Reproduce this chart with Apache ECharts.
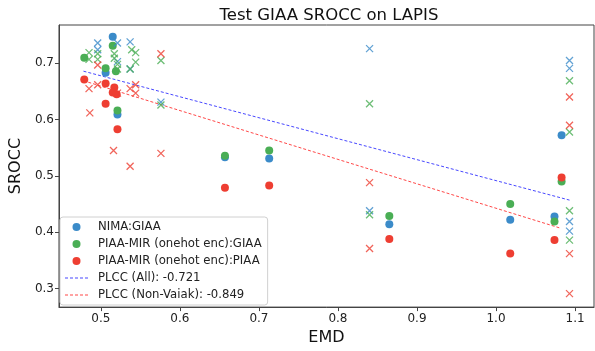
<!DOCTYPE html>
<html>
<head>
<meta charset="utf-8">
<script src="https://cdn.jsdelivr.net/npm/echarts@6/dist/echarts.min.js"></script>
<style>
html,body{margin:0;padding:0;background:#fff;}
#c{width:595px;height:351px;}
</style>
</head>
<body>
<div id="c"></div>
<script>
// ---- data ([EMD, SROCC]) ----
const nimaGiaaDot = [[0.515,0.747],[0.506,0.683],[0.521,0.609],[0.657,0.533],[0.713,0.531],[0.865,0.414],[1.018,0.422],[1.074,0.428],[1.083,0.572]];
const piaaGiaaDot = [[0.479,0.710],[0.515,0.731],[0.506,0.691],[0.519,0.686],[0.521,0.616],[0.657,0.536],[0.713,0.545],[0.865,0.429],[1.018,0.450],[1.074,0.419],[1.083,0.490]];
const piaaPiaaDot = [[0.479,0.671],[0.506,0.664],[0.517,0.657],[0.515,0.648],[0.520,0.645],[0.506,0.628],[0.521,0.583],[0.657,0.479],[0.713,0.483],[0.865,0.388],[1.018,0.362],[1.074,0.386],[1.083,0.497]];
const nimaGiaaX = [[0.496,0.736],[0.496,0.724],[0.521,0.736],[0.537,0.738],[0.521,0.703],[0.537,0.690],[0.576,0.631],[0.840,0.726],[0.840,0.438],[1.093,0.705],[1.093,0.691],[1.093,0.419],[1.093,0.402]];
const piaaGiaaX = [[0.485,0.719],[0.485,0.707],[0.496,0.707],[0.496,0.717],[0.517,0.717],[0.517,0.709],[0.521,0.698],[0.521,0.690],[0.539,0.724],[0.544,0.719],[0.544,0.702],[0.537,0.690],[0.576,0.705],[0.576,0.626],[0.840,0.628],[0.840,0.431],[1.093,0.669],[1.093,0.578],[1.093,0.438],[1.093,0.386]];
const piaaPiaaX = [[0.496,0.697],[0.576,0.717],[0.485,0.655],[0.496,0.662],[0.521,0.647],[0.544,0.662],[0.544,0.647],[0.537,0.655],[0.486,0.612],[0.516,0.545],[0.537,0.517],[0.576,0.540],[0.840,0.488],[0.840,0.371],[1.093,0.640],[1.093,0.590],[1.093,0.362],[1.093,0.291]];
const fitAll = [[0.478,0.686],[1.093,0.457]];
const fitNonVaiak = [[0.478,0.669],[1.082,0.407]];
const xTicks = [0.5,0.6,0.7,0.8,0.9,1.0,1.1];
const yTicks = [0.3,0.4,0.5,0.6,0.7];
const names = ['NIMA:GIAA','PIAA-MIR (onehot enc):GIAA','PIAA-MIR (onehot enc):PIAA','PLCC (All): -0.721','PLCC (Non-Vaiak): -0.849'];

const BLUE='#3b8bc9', GREEN='#4aae55', RED='#ee3e32';
const FIT_BLUE='rgba(40,40,255,0.85)', FIT_RED='rgba(255,40,40,0.85)';
const XPATH='path://M0,0L10,10M10,0L0,10';
const DASH_ICON='path://M0,0h3v1h-3zM5,0h3v1h-3zM10,0h3v1h-3zM15,0h3v1h-3zM20,0h3v1h-3z';
const FONT='DejaVu Sans';

function dots(name,data,color){
  return {type:'scatter',name:name,data:data,symbol:'circle',symbolSize:8,
    itemStyle:{color:color,opacity:1},z:3};
}
function crosses(name,data,color){
  return {type:'scatter',name:name,data:data,symbol:XPATH,symbolSize:7,
    itemStyle:{color:'rgba(0,0,0,0)',borderColor:color,borderWidth:1.3},z:3};
}
function fit(name,data,color){
  return {type:'line',name:name,data:data,symbol:'none',
    lineStyle:{color:color,width:1,type:[3,2]},itemStyle:{color:color},z:2};
}

const chart = echarts.init(document.getElementById('c'),null,{renderer:'canvas'});
chart.setOption({
  animation:false,
  backgroundColor:'#fff',
  textStyle:{fontFamily:FONT},
  title:{text:'Test GIAA SROCC on LAPIS',left:324,top:2,textAlign:'center',
    textStyle:{fontFamily:FONT,fontSize:16.5,fontWeight:'normal',color:'#111'}},
  grid:{left:54,right:1,top:25,bottom:39,show:true,borderColor:'#444',borderWidth:1,backgroundColor:'rgba(0,0,0,0)'},
  xAxis:{type:'value',min:0.447,max:1.124,
    name:'EMD',nameLocation:'middle',nameGap:22,
    nameTextStyle:{fontFamily:FONT,fontSize:16,color:'#111',verticalAlign:'top'},
    axisLine:{show:true,lineStyle:{color:'#444'}},
    axisTick:{show:true,length:4,customValues:xTicks,lineStyle:{color:'#444'}},
    axisLabel:{customValues:xTicks,margin:6,fontSize:12,color:'#222',fontFamily:FONT,
      formatter:v=>v.toFixed(1)},
    splitLine:{show:false}},
  yAxis:{type:'value',min:0.267,max:0.768,
    name:'SROCC',nameLocation:'middle',nameGap:28,nameRotate:90,
    nameTextStyle:{fontFamily:FONT,fontSize:16,color:'#111'},
    axisLine:{show:true,lineStyle:{color:'#444'}},
    axisTick:{show:true,length:4,customValues:yTicks,lineStyle:{color:'#444'}},
    axisLabel:{customValues:yTicks,margin:5,fontSize:12,color:'#222',fontFamily:FONT,
      formatter:v=>v.toFixed(1)},
    splitLine:{show:false}},
  legend:{
    data:[
      {name:names[0]},
      {name:names[1]},
      {name:names[2]},
      {name:names[3],icon:DASH_ICON,itemStyle:{color:FIT_BLUE}},
      {name:names[4],icon:DASH_ICON,itemStyle:{color:FIT_RED}}
    ],
    orient:'vertical',left:60,top:217,
    padding:[4,6,4,5],itemGap:5,itemWidth:23,itemHeight:8,
    backgroundColor:'rgba(255,255,255,0.85)',borderColor:'#d0d0d0',borderWidth:1,borderRadius:3,
    textStyle:{fontFamily:FONT,fontSize:11.7,color:'#222',padding:[0,0,0,5],lineHeight:12}
  },
  series:[
    dots(names[0],nimaGiaaDot,BLUE),
    dots(names[1],piaaGiaaDot,GREEN),
    dots(names[2],piaaPiaaDot,RED),
    crosses('NIMA:GIAA (x)',nimaGiaaX,BLUE),
    crosses('PIAA GIAA (x)',piaaGiaaX,GREEN),
    crosses('PIAA PIAA (x)',piaaPiaaX,RED),
    fit(names[3],fitAll,FIT_BLUE),
    fit(names[4],fitNonVaiak,FIT_RED)
  ]
});
</script>
</body>
</html>
